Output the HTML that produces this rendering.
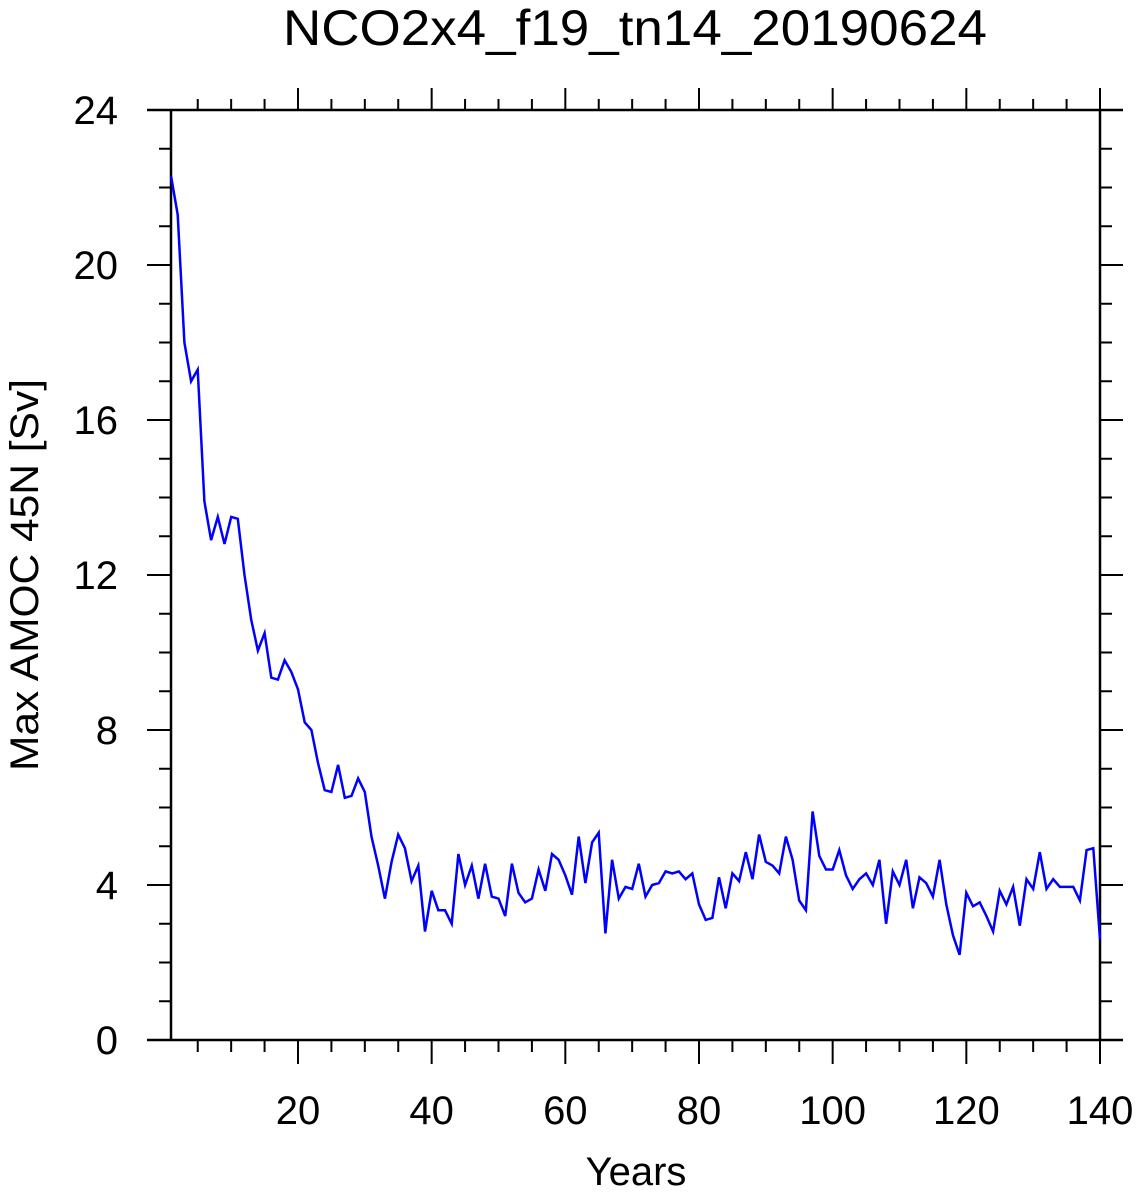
<!DOCTYPE html>
<html><head><meta charset="utf-8"><style>
html,body{margin:0;padding:0;background:#fff;}
svg text{font-family:"Liberation Sans",Arial,sans-serif;fill:#000;}
</style></head><body>
<svg id="chart" width="1138" height="1194" viewBox="0 0 1138 1194" xmlns="http://www.w3.org/2000/svg">
<text x="635" y="45" font-size="50" text-anchor="middle" textLength="704" lengthAdjust="spacingAndGlyphs">NCO2x4_f19_tn14_20190624</text>
<text x="636" y="1185" font-size="40" text-anchor="middle">Years</text>
<text transform="translate(38,575) rotate(-90)" font-size="40" text-anchor="middle" textLength="392" lengthAdjust="spacingAndGlyphs">Max AMOC 45N [Sv]</text>
<g id="axes"></g>
<g id="series"></g>
</svg>
<script>
const years = Array.from({length:140},(_,i)=>i+1);
const amoc = [22.3,21.3,18.0,17.0,17.3,13.9,12.9,13.5,12.8,13.5,
13.45,12.0,10.85,10.05,10.5,9.35,9.3,9.8,9.5,9.05,
8.2,8.0,7.15,6.45,6.4,7.1,6.25,6.3,6.75,6.4,
5.25,4.5,3.65,4.6,5.3,4.95,4.1,4.5,2.8,3.85,
3.35,3.35,3.0,4.8,4.0,4.5,3.65,4.55,3.7,3.65,
3.2,4.55,3.8,3.55,3.65,4.4,3.85,4.8,4.65,4.25,
3.75,5.25,4.05,5.1,5.35,2.75,4.65,3.65,3.95,3.9,
4.55,3.7,4.0,4.05,4.35,4.3,4.35,4.15,4.3,3.5,
3.1,3.15,4.2,3.4,4.3,4.1,4.85,4.15,5.3,4.6,
4.5,4.3,5.25,4.65,3.6,3.35,5.9,4.75,4.4,4.4,
4.9,4.25,3.9,4.15,4.3,4.0,4.65,3.0,4.35,4.0,
4.65,3.4,4.2,4.05,3.7,4.65,3.5,2.7,2.2,3.8,
3.45,3.55,3.2,2.8,3.85,3.5,3.95,2.95,4.15,3.9,
4.85,3.9,4.15,3.95,3.95,3.95,3.6,4.9,4.95,2.6];
const xTickLabels = [20,40,60,80,100,120,140];
const yTickLabels = [0,4,8,12,16,20,24];

const NS="http://www.w3.org/2000/svg";
const X0=171, XPX=(1100-171)/139;
const sx = v => X0 + (v-1)*XPX;
const sy = v => 1040 - v*(930/24);
const L=147, R=1123, T=110, B=1040;
const axes=document.getElementById('axes');
function ln(x1,y1,x2,y2,w,name){
  const e=document.createElementNS(NS,'line');
  e.setAttribute('x1',x1);e.setAttribute('y1',y1);e.setAttribute('x2',x2);e.setAttribute('y2',y2);
  e.setAttribute('stroke','#000');e.setAttribute('stroke-width',w);
  
  
  axes.appendChild(e);
}
ln(L,T,R,T,2.5,'top-border');
ln(L,B,R,B,2.5,'bottom-border');
ln(X0,T,X0,B,2.5,'left-axis-line');
ln(1100,T,1100,B,2.5,'right-axis-line');
for(let v=0;v<=24;v++){
  const y=sy(v), maj=v%4===0;
  ln(maj?147:159,y,X0,y,2,'y-tick');
  ln(1100,y,maj?1123:1112,y,2,'y-tick-right');
}
for(let v=5;v<=140;v+=5){
  const x=sx(v), maj=v%20===0;
  ln(x,T,x,maj?88:99,2,'x-tick-top');
  ln(x,B,x,maj?1064:1052,2,'x-tick-bottom');
}
xTickLabels.forEach(v=>{
  const t=document.createElementNS(NS,'text');
  t.setAttribute('x',sx(v));t.setAttribute('y',1124);t.setAttribute('font-size','40');t.setAttribute('text-anchor','middle');
  t.textContent=v;
  
  
  axes.appendChild(t);
});
yTickLabels.forEach(v=>{
  const t=document.createElementNS(NS,'text');
  t.setAttribute('x',118);t.setAttribute('y',sy(v)+14);t.setAttribute('font-size','40');t.setAttribute('text-anchor','end');
  t.textContent=v;
  
  
  axes.appendChild(t);
});
const p=document.createElementNS(NS,'polyline');
p.setAttribute('points',years.map((yr,i)=>sx(yr).toFixed(1)+','+sy(amoc[i]).toFixed(1)).join(' '));
p.setAttribute('fill','none');p.setAttribute('stroke','#0000ff');p.setAttribute('stroke-width','2.5');p.setAttribute('stroke-linejoin','miter');


document.getElementById('series').appendChild(p);
</script>
</body></html>
